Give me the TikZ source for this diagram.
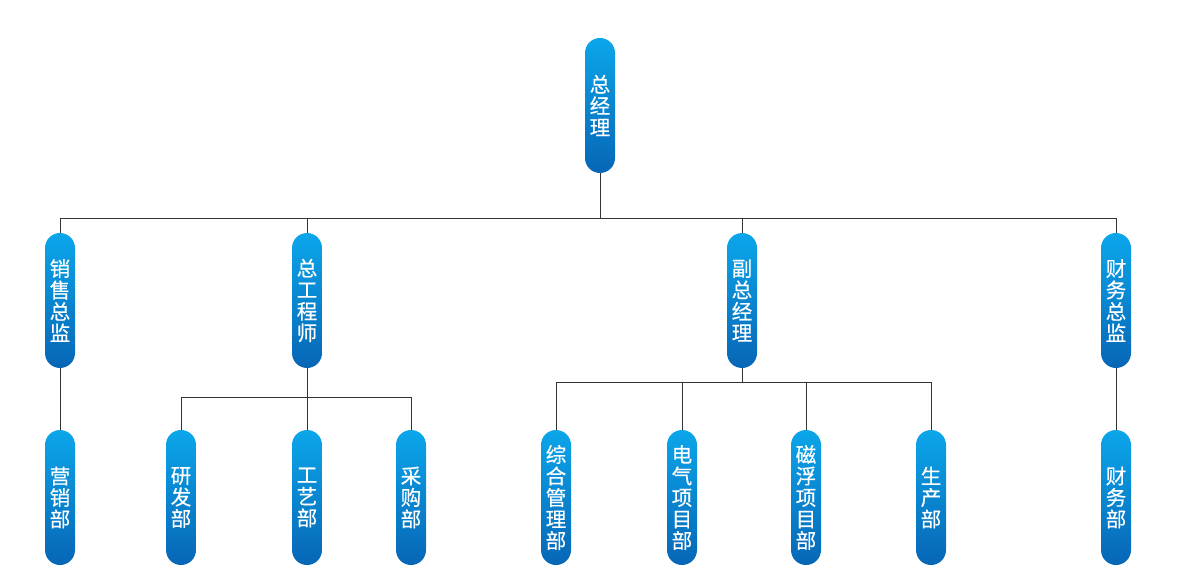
\documentclass[tikz,border=0pt]{standalone}
\usepackage{fontspec}
\newfontfamily\cjk[FakeBold=0.5]{Noto Sans CJK SC}
\definecolor{boxtop}{HTML}{0BA6EA}
\definecolor{boxbot}{HTML}{0766B6}
\definecolor{linegray}{HTML}{333333}
\tikzset{
  unit/.style={rounded corners=15pt, minimum width=30pt, minimum height=135pt,
    inner sep=0pt, top color=boxtop, bottom color=boxbot, draw=none,
    text=white, align=center, font=\cjk\fontsize{20.5}{21.5}\selectfont},
  wire/.style={draw=linegray, line width=0.8pt}
}
\begin{document}
\begin{tikzpicture}[x=1pt, y=1pt]
  \useasboundingbox (0, 0) rectangle (1200, -567);
  % top level
  \node[unit] (zjl) at (600, -105.5) {总\\经\\理};
  % second level
  \node[unit] (xszj) at (60, -300.5) {销\\售\\总\\监};
  \node[unit] (zgcs) at (307, -300.5) {总\\工\\程\\师};
  \node[unit] (fzjl) at (742, -300.5) {副\\总\\经\\理};
  \node[unit] (cwzj) at (1116, -300.5) {财\\务\\总\\监};
  % third level
  \node[unit] (yxb) at (60, -497.5) {营\\销\\部};
  \node[unit] (yfb) at (181, -497.5) {研\\发\\部};
  \node[unit] (gyb) at (307, -497.5) {工\\艺\\部};
  \node[unit] (cgb) at (411, -497.5) {采\\购\\部};
  \node[unit] (zhglb) at (556, -497.5) {综\\合\\管\\理\\部};
  \node[unit] (dqxmb) at (682, -497.5) {电\\气\\项\\目\\部};
  \node[unit] (cfxmb) at (806, -497.5) {磁\\浮\\项\\目\\部};
  \node[unit] (scb) at (931, -497.5) {生\\产\\部};
  \node[unit] (cwb) at (1116, -497.5) {财\\务\\部};
  % connectors
  \coordinate (bus) at (600, -219);
  \draw[wire] (zjl.south) -- (bus);
  \draw[wire] (xszj.north) -- ++(0, 14) -| (cwzj.north);
  \draw[wire] (zgcs.north) -- ++(0, 14);
  \draw[wire] (fzjl.north) -- ++(0, 14);
  \draw[wire] (xszj.south) -- (yxb.north);
  \draw[wire] (cwzj.south) -- (cwb.north);
  \draw[wire] (zgcs.south) -- (gyb.north);
  \draw[wire] (yfb.north) -- ++(0, 32) -| (cgb.north);
  \draw[wire] (fzjl.south) -- ++(0, -15);
  \draw[wire] (zhglb.north) -- ++(0, 47) -| (scb.north);
  \draw[wire] (dqxmb.north) -- ++(0, 47);
  \draw[wire] (cfxmb.north) -- ++(0, 47);
\end{tikzpicture}
\end{document}
